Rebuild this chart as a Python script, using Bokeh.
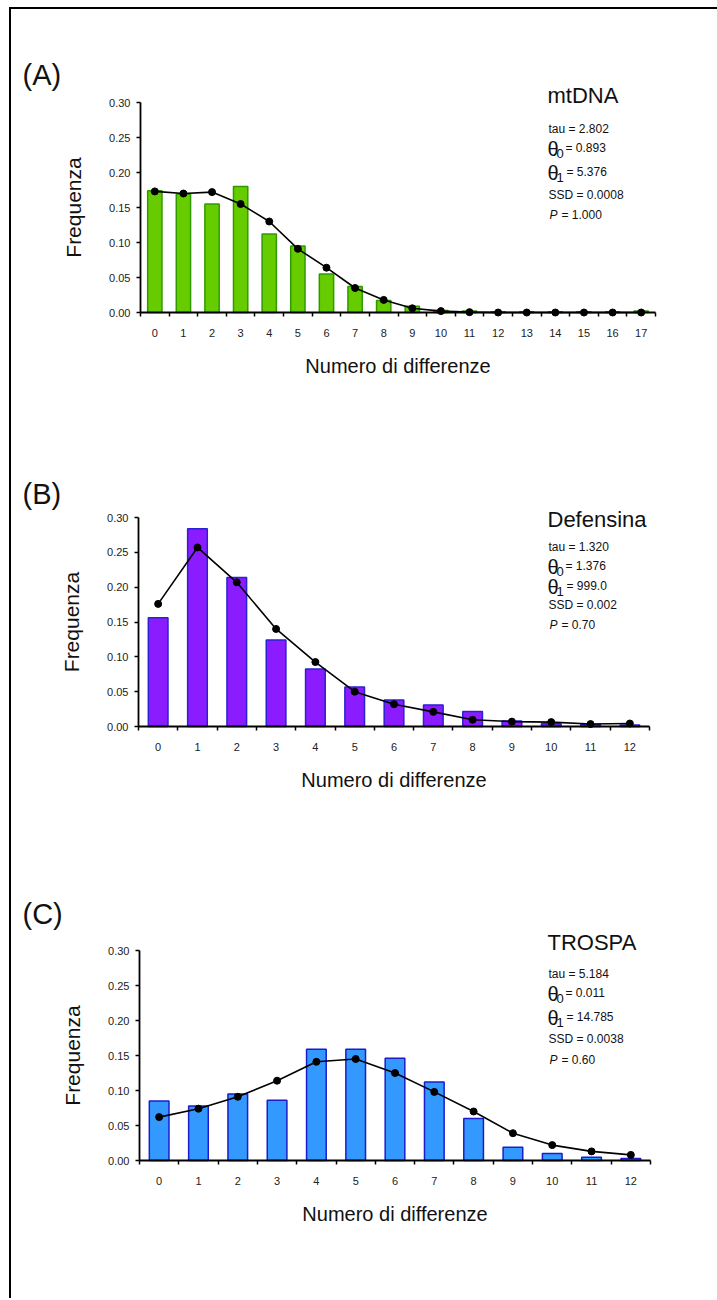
from bokeh.plotting import figure
from bokeh.layouts import column
from bokeh.models import Label, FixedTicker, NumeralTickFormatter, Range1d
from bokeh.embed import file_html
from bokeh.resources import INLINE

# ---------------- data ----------------
panel_tags = ["(A)", "(B)", "(C)"]
gene_names = ["mtDNA", "Defensina", "TROSPA"]

diff_a = list(range(18))
obs_a = [0.174, 0.169, 0.155, 0.180, 0.112, 0.095, 0.055, 0.037, 0.017, 0.009,
         0.003, 0.002, 0.001, 0.001, 0.001, 0.001, 0.001, 0.002]
exp_a = [0.173, 0.170, 0.172, 0.155, 0.130, 0.091, 0.064, 0.035, 0.018, 0.006,
         0.002, 0.0005, 0.0, 0.0, 0.0, 0.0, 0.0, 0.0]

diff_b = list(range(13))
obs_b = [0.156, 0.284, 0.214, 0.124, 0.0825, 0.0566, 0.038, 0.031, 0.0216, 0.008,
         0.004, 0.003, 0.002]
exp_b = [0.176, 0.257, 0.207, 0.140, 0.0925, 0.050, 0.032, 0.021, 0.0096, 0.007,
         0.0063, 0.0035, 0.0043]

diff_c = list(range(13))
obs_c = [0.085, 0.078, 0.095, 0.086, 0.159, 0.159, 0.146, 0.112, 0.060, 0.019,
         0.010, 0.0045, 0.003]
exp_c = [0.062, 0.074, 0.091, 0.114, 0.141, 0.145, 0.125, 0.098, 0.070, 0.039,
         0.022, 0.013, 0.008]

tau_vals = ["2.802", "1.320", "5.184"]
theta0_vals = ["0.893", "1.376", "0.011"]
theta1_vals = ["5.376", "999.0", "14.785"]
ssd_vals = ["0.0008", "0.002", "0.0038"]
p_vals = ["1.000", "0.70", "0.60"]

y_ticks = [0.0, 0.05, 0.10, 0.15, 0.20, 0.25, 0.30]
y_max = 0.30
x_title = "Numero di differenze"
y_title = "Frequenza"

# ---------------- layout (reference pixel coords) ----------------
FONT = "Liberation Sans"
ORIG_X = 11          # left edge of figures in window
RIGHT_X = 717
# per panel: figure top/bottom, data frame left/top/width/height
geo = [
    dict(fig_top=9, fig_bot=440, fl=140, ft=102, fw=515, fh=210,
         tag_y=74, gene_y=95, stat_y=[128, 148, 172, 194, 214]),
    dict(fig_top=440, fig_bot=860, fl=138, ft=517, fw=511, fh=209,
         tag_y=493, gene_y=519, stat_y=[546, 566, 586, 604, 624]),
    dict(fig_top=860, fig_bot=1298, fl=139, ft=950, fw=511, fh=210,
         tag_y=913, gene_y=942, stat_y=[973, 993, 1017, 1038, 1059]),
]
styles = [
    dict(fill="#66cc00", line="#2f9a00"),
    dict(fill="#8a1cff", line="#2a22d0"),
    dict(fill="#3399ff", line="#1c1ccc"),
]
datasets = [(diff_a, obs_a, exp_a), (diff_b, obs_b, exp_b), (diff_c, obs_c, exp_c)]


def make_panel(i):
    g = geo[i]
    st = styles[i]
    cats, obs, exp = datasets[i]
    n = len(cats)
    sx = g["fw"] / n
    sy = g["fh"] / y_max
    fb = g["ft"] + g["fh"]
    x0 = -0.5 + (ORIG_X - g["fl"]) / sx
    x1 = -0.5 + (RIGHT_X - g["fl"]) / sx
    y1 = y_max + (g["ft"] - g["fig_top"]) / sy
    y0 = -(g["fig_bot"] - fb) / sy

    p = figure(width=RIGHT_X - ORIG_X, height=g["fig_bot"] - g["fig_top"],
               x_range=Range1d(x0, x1), y_range=Range1d(y0, y1),
               toolbar_location=None, output_backend="svg", min_border=0)
    p.outline_line_color = None
    p.grid.visible = False
    p.background_fill_color = "white"
    p.border_fill_color = "white"

    p.vbar(x=cats, top=obs, bottom=0, width=0.5, fill_color=st["fill"],
           line_color=st["line"], line_width=1.5)
    p.line(x=cats, y=exp, line_color="black", line_width=1.6)
    p.scatter(x=cats, y=exp, size=7, marker="circle", fill_color="black", line_color="black")

    # x axis
    xa = p.xaxis[0]
    xa.fixed_location = 0
    xa.bounds = (-0.5, n - 0.5)
    xa.ticker = FixedTicker(ticks=cats, minor_ticks=[c - 0.5 for c in cats] + [n - 0.5])
    xa.major_tick_out = 0
    xa.major_tick_in = 0
    xa.minor_tick_out = 4
    xa.minor_tick_in = 0
    xa.minor_tick_line_color = "black"
    xa.minor_tick_line_width = 1.5
    xa.axis_line_color = "black"
    xa.axis_line_width = 1.8
    xa.major_label_standoff = 12
    xa.major_label_text_font = FONT
    xa.major_label_text_font_size = "11px"
    xa.major_label_text_color = "#222222"
    xa.axis_label = x_title
    xa.axis_label_text_font = FONT
    xa.axis_label_text_font_size = "20px"
    xa.axis_label_text_font_style = "normal"
    xa.axis_label_text_color = "#111111"
    xa.axis_label_standoff = 15

    # y axis
    ya = p.yaxis[0]
    ya.fixed_location = -0.5
    ya.bounds = (0, y_max)
    ya.ticker = FixedTicker(ticks=y_ticks)
    ya.formatter = NumeralTickFormatter(format="0.00")
    ya.major_tick_out = 4
    ya.major_tick_in = 0
    ya.minor_tick_out = 0
    ya.minor_tick_in = 0
    ya.major_tick_line_width = 1.5
    ya.axis_line_color = "black"
    ya.axis_line_width = 1.8
    ya.major_label_standoff = 6
    ya.major_label_text_font = FONT
    ya.major_label_text_font_size = "11px"
    ya.major_label_text_color = "#222222"
    ya.axis_label = y_title
    ya.axis_label_text_font = FONT
    ya.axis_label_text_font_size = "21px"
    ya.axis_label_text_font_style = "normal"
    ya.axis_label_text_color = "#111111"
    ya.axis_label_standoff = 21

    def lab(text, rx, ry, size, style="normal"):
        p.add_layout(Label(x=rx - ORIG_X, y=g["fig_bot"] - ry, x_units="screen", y_units="screen",
                           text=text, text_font=FONT, text_font_size=size,
                           text_font_style=style, text_align="left",
                           text_baseline="middle", text_color="#111111"))

    lab(panel_tags[i], 22, g["tag_y"], "29px")
    lab(gene_names[i], 547, g["gene_y"], "22px")
    s = g["stat_y"]
    lab("tau = " + tau_vals[i], 548, s[0], "12px")
    lab("\u03b8", 547, s[1], "20px")
    lab("0", 556, s[1] + 5, "13px")
    lab("= " + theta0_vals[i], 565, s[1] - 1, "12px")
    lab("\u03b8", 547, s[2], "20px")
    lab("1", 556, s[2] + 5, "13px")
    lab("= " + theta1_vals[i], 566, s[2] - 1, "12px")
    lab("SSD = " + ssd_vals[i], 548, s[3], "12px")
    lab("P", 549, s[4], "12px", style="italic")
    lab("= " + p_vals[i], 561, s[4], "12px")
    return p


panels = [make_panel(i) for i in range(3)]
layout = column(*panels, spacing=0,
                styles={"border-left": "2px solid black", "border-top": "2px solid black",
                        "margin-left": "9px", "margin-top": "7px"})

open("out.html", "w").write(file_html(layout, INLINE))
